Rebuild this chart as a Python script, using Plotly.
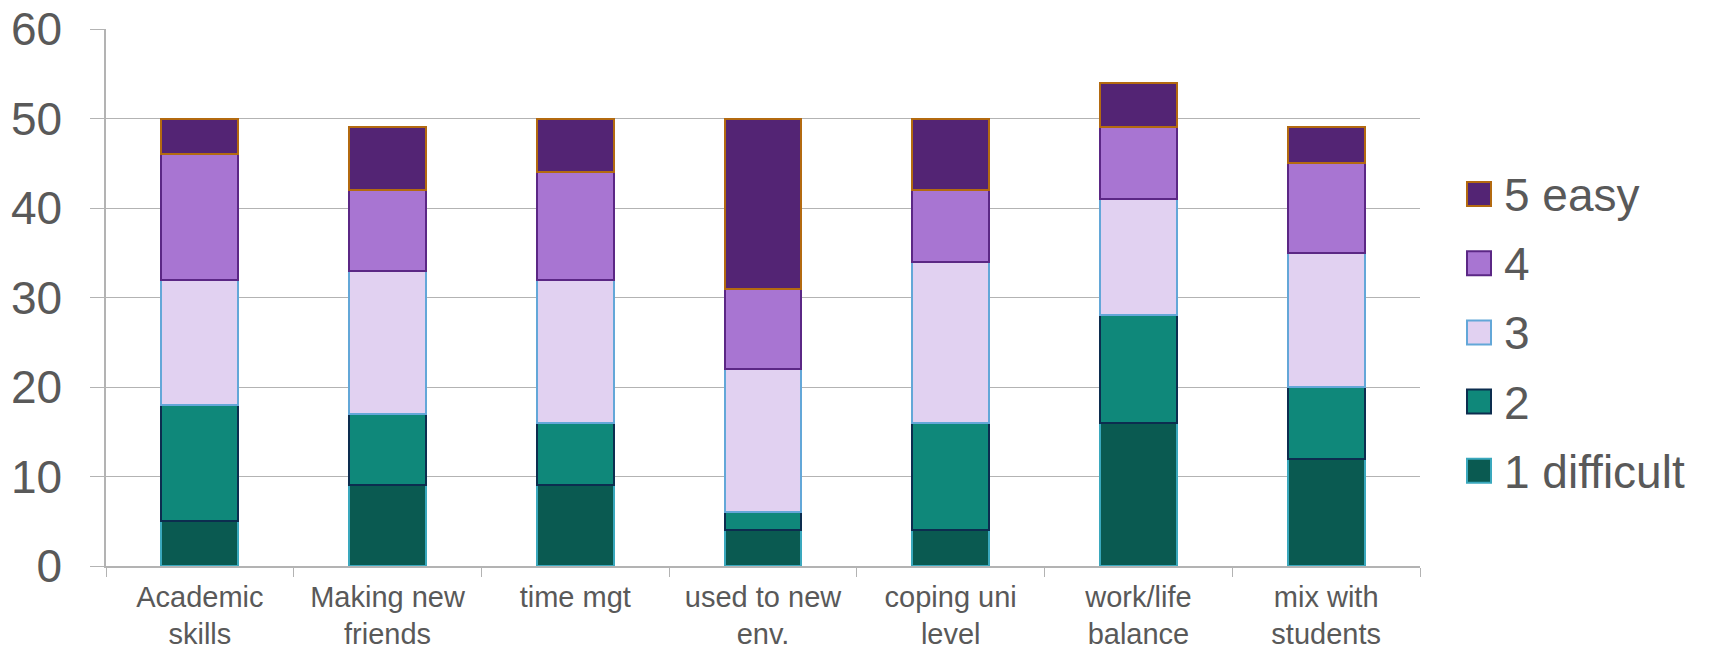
import plotly.graph_objects as go

categories = ["Academic<br>skills", "Making new<br>friends", "time mgt", "used to new<br>env.",
              "coping uni<br>level", "work/life<br>balance", "mix with<br>students"]

s1_difficult = [5, 9, 9, 4, 4, 16, 12]
s2 = [13, 8, 7, 2, 12, 12, 8]
s3 = [14, 16, 16, 16, 18, 13, 15]
s4 = [14, 9, 12, 9, 8, 8, 10]
s5_easy = [4, 7, 6, 19, 8, 5, 4]

series_names = ["1 difficult", "2", "3", "4", "5 easy"]
series_values = [s1_difficult, s2, s3, s4, s5_easy]
fill_colors = ["#0a5a51", "#0f887a", "#e1d1f1", "#a875d2", "#532474"]
line_colors = ["#3aa8bd", "#0c2d4f", "#63a7d8", "#5b2785", "#b36a10"]

y_ticks = [0, 10, 20, 30, 40, 50, 60]

FONT = "Liberation Sans, Arial, sans-serif"
TXT = "#595959"

fig = go.Figure()
for name, vals, fc, lc in zip(series_names, series_values, fill_colors, line_colors):
    fig.add_trace(go.Bar(
        x=categories, y=vals, name=name,
        marker=dict(color=fc, line=dict(color=lc, width=2)),
        showlegend=False,
    ))

# The page body has an 8px default margin; size the figure so it fills the window.
OFF = 8
W, H = 1709 - OFF, 656 - OFF
L, R, T, B = 106 - OFF, 1709 - 1420, 29 - OFF, 656 - 566
pw, ph = W - L - R, H - T - B

def px_x(px):  # window pixel -> paper x
    return (px - OFF - L) / pw

def px_y(py):  # window pixel -> paper y
    return (H - B - (py - OFF)) / ph

# Custom legend (large squares, top-down: 5 easy ... 1 difficult)
for i, (name, fc, lc) in enumerate(zip(series_names[::-1], fill_colors[::-1], line_colors[::-1])):
    cy = 194 + i * 69.2
    fig.add_shape(type="rect", xref="paper", yref="paper",
                  x0=px_x(1467), x1=px_x(1491), y0=px_y(cy + 12), y1=px_y(cy - 12),
                  fillcolor=fc, line=dict(color=lc, width=2))
    fig.add_annotation(xref="paper", yref="paper", x=px_x(1502), y=px_y(cy + 1),
                       text=name, showarrow=False, xanchor="left", yanchor="middle",
                       font=dict(family=FONT, size=46, color=TXT))

fig.update_layout(
    barmode="stack",
    bargap=0.59,
    width=W, height=H,
    margin=dict(l=L, r=R, t=T, b=B, pad=0, autoexpand=False),
    plot_bgcolor="white",
    paper_bgcolor="white",
    font=dict(family=FONT, color=TXT),
    xaxis=dict(
        automargin=False,
        showline=True, linecolor="#b3b3b3", linewidth=1.5,
        ticks="outside", ticklen=9, tickcolor="#b3b3b3", tickwidth=1.2,
        tickson="boundaries", showgrid=False,
        ticklabelstandoff=4,
        tickfont=dict(family=FONT, size=29, color=TXT),
    ),
    yaxis=dict(
        automargin=False,
        range=[0, 60.0001], tickvals=y_ticks,
        showline=True, linecolor="#b3b3b3", linewidth=1.5,
        showgrid=True, gridcolor="#b3b3b3", gridwidth=1.3,
        ticks="outside", ticklen=14, tickcolor="#b3b3b3", tickwidth=1.2,
        ticklabelstandoff=19, ticklabeloverflow="allow",
        tickfont=dict(family=FONT, size=46, color=TXT),
        zeroline=False,
    ),
)

fig.write_html("out.html")
